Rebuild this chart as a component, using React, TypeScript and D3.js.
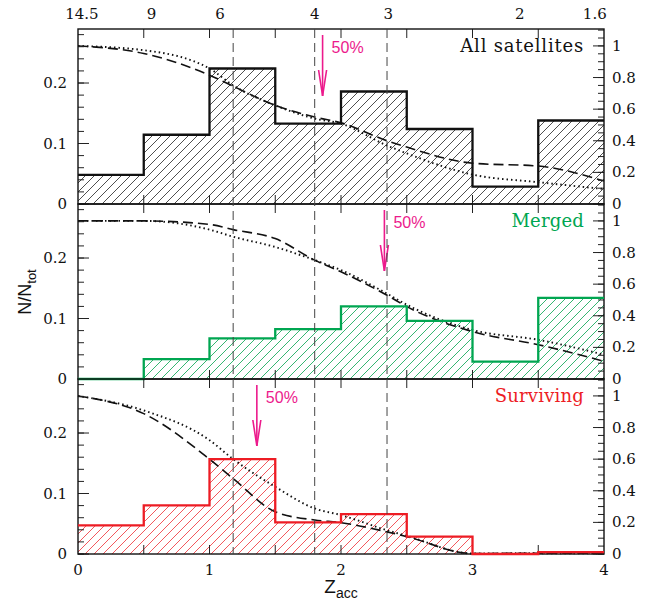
import React from 'react';
import * as d3 from 'd3';

// bin edges of the z_acc histograms
const binEdges = [0, 0.5, 1, 1.5, 2, 2.5, 3, 3.5, 4];

// N/N_tot per bin
const allHist = [0.048, 0.1145, 0.224, 0.133, 0.186, 0.124, 0.0286, 0.138];
const mergedHist = [0, 0.033, 0.067, 0.0826, 0.12, 0.096, 0.0286, 0.134];
const survHist = [0.0474, 0.0805, 0.157, 0.0524, 0.066, 0.0286, 0, 0.003];

// cumulative curves (right axis), sampled at these z
const curveZ = [0, 0.5, 1, 1.18, 1.5, 1.8, 2, 2.35, 2.5, 3, 3.5, 4];
const allDashed = [1.0, 0.952, 0.815, 0.745, 0.624, 0.55, 0.514, 0.4, 0.36, 0.258, 0.24, 0.145];
const allDotted = [1.0, 0.973, 0.857, 0.75, 0.624, 0.54, 0.508, 0.37, 0.32, 0.186, 0.138, 0.095];
const mergedDashed = [1.0, 1.0, 0.978, 0.945, 0.888, 0.752, 0.678, 0.53, 0.458, 0.3, 0.217, 0.112];
const mergedDotted = [1.0, 1.0, 0.945, 0.9, 0.835, 0.752, 0.689, 0.54, 0.47, 0.31, 0.248, 0.154];
const survDashed = [1.0, 0.888, 0.6, 0.477, 0.267, 0.215, 0.198, 0.14, 0.11, 0.003, 0.005, 0.005];
const survDotted = [1.0, 0.908, 0.72, 0.6, 0.425, 0.288, 0.246, 0.15, 0.115, 0.003, 0.005, 0.005];

// vertical reference lines and 50% arrows
const refLines = [1.18, 1.8, 2.35];
const arrowZ = [1.86, 2.33, 1.36];

// top axis labels (Gyr) and where they sit in z
const topLabels = ['14.5', '9', '6', '4', '3', '2', '1.6'];
const topLabelZ = [0.03, 0.56, 1.08, 1.8, 2.36, 3.36, 3.93];

const panelNames = ['All satellites', 'Merged', 'Surviving'];
const panelColors = ['#111111', '#00a651', '#ed1c24'];
const hatchColors = ['#222222', '#1fae62', '#f0454b'];

const W = 654;
const H = 609;
const left = 78;
const right = 604;
const panelTops = [29, 204, 379];
const panelH = 175;

const serif = '"DejaVu Serif", "Liberation Serif", serif';
const sans = '"Liberation Sans", Arial, sans-serif';
const magenta = '#ec1a8c';

const App: React.FC = () => {
  const x = d3.scaleLinear().domain([0, 4]).range([left, right]);
  const hists = [allHist, mergedHist, survHist];
  const dashed = [allDashed, mergedDashed, survDashed];
  const dotted = [allDotted, mergedDotted, survDotted];

  const panels = panelTops.map((top, i) => {
    const bottom = top + panelH;
    const yL = d3.scaleLinear().domain([0, 0.2893]).range([bottom, top]);
    const yR = d3.scaleLinear().domain([0, 1.107]).range([bottom, top]);

    const pts: [number, number][] = hists[i].map((v, k) => [binEdges[k], v]);
    pts.push([4, hists[i][hists[i].length - 1]]);

    const area = d3.area<[number, number]>()
      .x(d => x(d[0]))
      .y0(yL(0))
      .y1(d => yL(d[1]))
      .curve(d3.curveStepAfter);
    const step = d3.line<[number, number]>()
      .x(d => x(d[0]))
      .y(d => yL(d[1]))
      .curve(d3.curveStepAfter);
    const cum = d3.line<number>()
      .x((_, k) => x(curveZ[k]))
      .y(d => yR(d))
      .curve(d3.curveMonotoneX);

    const leftMinor = d3.range(0, 0.2893, 0.02);
    const leftMajor = [0, 0.1, 0.2];
    const rightMinor = d3.range(0, 1.107, 0.05);
    const rightMajor = [0, 0.2, 0.4, 0.6, 0.8, 1];
    const xTicks = d3.range(0.5, 4, 0.5);

    const ax = x(arrowZ[i]);
    const aTop = top + 6;
    const aTip = top + 67;

    return (
      <g key={i}>
        <path d={area(pts) || ''} fill={`url(#hatch${i})`} />
        <path d={cum(dashed[i]) || ''} fill="none" stroke="#111" strokeWidth={1.6} strokeDasharray="10,5" />
        <path d={cum(dotted[i]) || ''} fill="none" stroke="#111" strokeWidth={1.9} strokeDasharray="1.5,3" />

        {/* ticks */}
        {leftMinor.map((t, k) => (
          <line key={'lm' + k} x1={left} x2={left + 6} y1={yL(t)} y2={yL(t)} stroke="#222" strokeWidth={1} />
        ))}
        {leftMajor.map((t, k) => (
          <g key={'lM' + k}>
            <line x1={left} x2={left + 11} y1={yL(t)} y2={yL(t)} stroke="#222" strokeWidth={1} />
            <text x={67} y={yL(t) + 5} textAnchor="end" fontFamily={serif} fontSize={15} fill="#111">{t === 0 ? '0' : String(t)}</text>
          </g>
        ))}
        {rightMinor.map((t, k) => (
          <line key={'rm' + k} x1={right} x2={right - 6} y1={yR(t)} y2={yR(t)} stroke="#222" strokeWidth={1} />
        ))}
        {rightMajor.map((t, k) => (
          <g key={'rM' + k}>
            <line x1={right} x2={right - 11} y1={yR(t)} y2={yR(t)} stroke="#222" strokeWidth={1} />
            <text x={612} y={yR(t) + 5} fontFamily={serif} fontSize={15} fill="#111">{t === 0 ? '0' : t === 1 ? '1' : t.toFixed(1)}</text>
          </g>
        ))}
        {xTicks.map((t, k) => (
          <g key={'x' + k}>
            <line x1={x(t)} x2={x(t)} y1={bottom} y2={bottom - 9} stroke="#222" strokeWidth={1} />
            <line x1={x(t)} x2={x(t)} y1={top} y2={top + 9} stroke="#222" strokeWidth={1} />
          </g>
        ))}

        <rect x={left} y={top} width={right - left} height={panelH} fill="none" stroke="#111" strokeWidth={1.4} />
        <path d={step(pts) || ''} fill="none" stroke={panelColors[i]} strokeWidth={2.3} />

        <text x={584} y={top + 23} textAnchor="end" fontFamily={serif} fontSize={18}
          letterSpacing={i === 0 ? 0.8 : 0.2} fill={panelColors[i]}>{panelNames[i]}</text>

        {/* 50% arrow */}
        <line x1={ax} x2={ax} y1={aTop} y2={aTip} stroke={magenta} strokeWidth={1.6} />
        <path d={`M${ax - 4},${aTip - 26} L${ax},${aTip} L${ax + 4},${aTip - 26}`} fill="none" stroke={magenta} strokeWidth={1.6} />
        <text x={ax + 9} y={top + 24} fontFamily={sans} fontSize={16} fill={magenta}>50%</text>
      </g>
    );
  });

  return (
    <svg width={W} height={H} style={{ position: 'absolute', left: 0, top: 0, background: '#fff' }}>
      <defs>
        {hatchColors.map((c, i) => (
          <pattern key={i} id={`hatch${i}`} width={9} height={9} patternUnits="userSpaceOnUse">
            <path d="M0,9 L9,0 M-2,2 L2,-2 M7,11 L11,7" stroke={c} strokeWidth={i === 0 ? 0.8 : 0.9} />
          </pattern>
        ))}
      </defs>
      <rect width={W} height={H} fill="#fff" />

      {panels}

      {/* vertical reference lines across all panels */}
      {refLines.map((z, k) => (
        <line key={k} x1={x(z)} x2={x(z)} y1={panelTops[0]} y2={panelTops[2] + panelH}
          stroke="#444" strokeWidth={1} strokeDasharray="9,5" />
      ))}

      {/* bottom axis labels */}
      {[0, 1, 2, 3, 4].map(t => (
        <text key={t} x={x(t)} y={575} textAnchor="middle" fontFamily={serif} fontSize={15} fill="#111">{t}</text>
      ))}

      {/* top axis labels */}
      {topLabels.map((s, k) => (
        <text key={s} x={x(topLabelZ[k])} y={19} textAnchor="middle" fontFamily={serif} fontSize={15} fill="#111">{s}</text>
      ))}

      <text x={341} y={593} textAnchor="middle" fontFamily={sans} fill="#111">
        <tspan fontSize={19}>Z</tspan>
        <tspan fontSize={14} dy={5}>acc</tspan>
      </text>

      <text transform="translate(31,292) rotate(-90)" textAnchor="middle" fontFamily={sans} fill="#111">
        <tspan fontSize={18}>N/N</tspan>
        <tspan fontSize={13} dy={5}>tot</tspan>
      </text>
    </svg>
  );
};

export default App;
